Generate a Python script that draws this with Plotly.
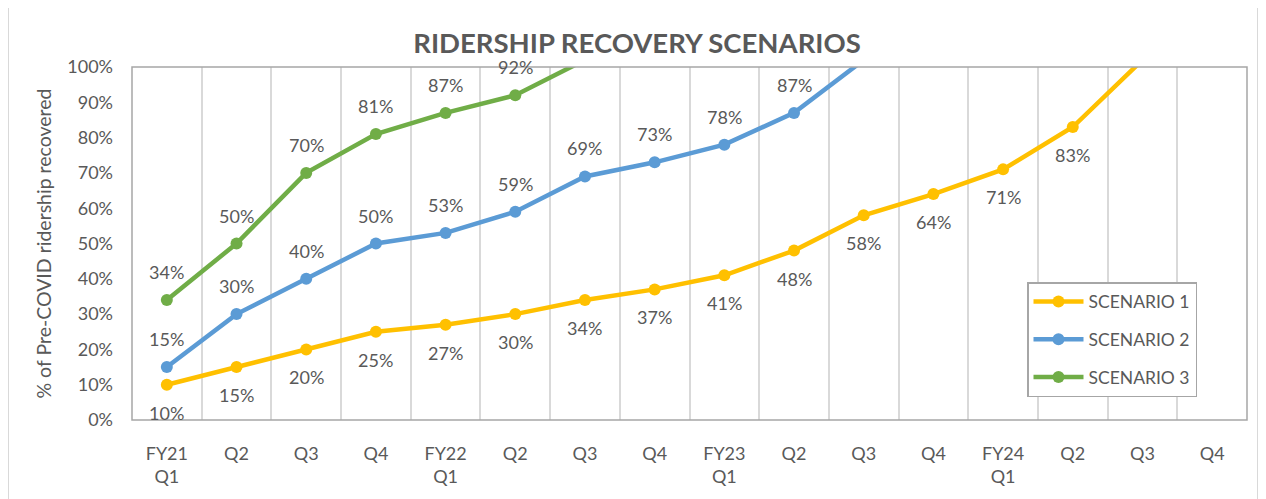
import plotly.graph_objects as go

# ---- data ----
quarters = ["FY21<br>Q1", "Q2", "Q3", "Q4",
            "FY22<br>Q1", "Q2", "Q3", "Q4",
            "FY23<br>Q1", "Q2", "Q3", "Q4",
            "FY24<br>Q1", "Q2", "Q3", "Q4"]
scenario_1 = [10, 15, 20, 25, 27, 30, 34, 37, 41, 48, 58, 64, 71, 83, 102, None]
scenario_2 = [15, 30, 40, 50, 53, 59, 69, 73, 78, 87, 102, None, None, None, None, None]
scenario_3 = [34, 50, 70, 81, 87, 92, 102, None, None, None, None, None, None, None, None, None]
series_names = ["SCENARIO 1", "SCENARIO 2", "SCENARIO 3"]
series_colors = ["#FFC000", "#5B9BD5", "#70AD47"]
label_side = [-1, 1, 1]  # -1 below, +1 above

FONT = "Lato, Open Sans, sans-serif"
TXT = "#595959"

# page offset of the plotly div (browser default body margin)
OFF = 8
FIG_W, FIG_H = 1266 - OFF, 499 - OFF
# plot area in page pixels
L, R, T, B = 132, 1247, 67, 423
W, H = R - L, B - T
def px(xp):
    return (xp - L) / W
def py(yp):
    return (B - yp) / H

x = list(range(len(quarters)))
fig = go.Figure()
annotations = []
for name, vals, col, side in zip(series_names, [scenario_1, scenario_2, scenario_3], series_colors, label_side):
    fig.add_trace(go.Scatter(
        x=x, y=vals, name=name, mode="lines+markers",
        line=dict(color=col, width=4.5),
        marker=dict(color=col, size=12),
        legendgroup=name, cliponaxis=True,
    ))
    for xi, v in zip(x, vals):
        if v is not None and v <= 100:
            annotations.append(dict(
                x=xi, y=v, xref="x", yref="y", text=f"{v:.0f}%", showarrow=False,
                yshift=28 * side, font=dict(family=FONT, size=18, color=TXT),
            ))

# outer chart border
fig.add_shape(type="rect", xref="paper", yref="paper",
              x0=px(8), x1=px(1258), y0=py(505), y1=py(5),
              line=dict(color="#D9D9D9", width=2), fillcolor="rgba(0,0,0,0)", layer="below")
# plot-area border
fig.add_shape(type="rect", xref="paper", yref="paper", x0=0, x1=1, y0=0, y1=1,
              line=dict(color="#A6A6A6", width=1.5), fillcolor="rgba(0,0,0,0)", layer="above")

fig.update_layout(
    width=FIG_W, height=FIG_H,
    margin=dict(l=L - OFF, r=1266 - R, t=T - OFF, b=499 - B),
    paper_bgcolor="white", plot_bgcolor="white",
    title=dict(text="<b>RIDERSHIP RECOVERY SCENARIOS</b>", x=(637 - OFF) / FIG_W, xanchor="center",
               y=1 - (43 - OFF) / FIG_H, yanchor="middle",
               font=dict(family=FONT, size=27.5, color=TXT)),
    font=dict(family=FONT, size=18, color=TXT),
    showlegend=True,
    legend=dict(x=px(1027), y=py(284), xanchor="left", yanchor="top",
                bordercolor="#A6A6A6", borderwidth=1.5, bgcolor="white",
                traceorder="grouped", tracegroupgap=12, itemwidth=50,
                font=dict(family=FONT, size=17.5, color=TXT)),
    annotations=annotations,
    xaxis=dict(
        range=[-0.5, len(quarters) - 0.5], tickmode="array", tickvals=x, ticktext=quarters,
        showgrid=False, zeroline=False, showline=False, ticks="",
        ticklabelstandoff=21,
        tickfont=dict(family=FONT, size=18, color=TXT),
        minor=dict(tick0=-0.5, dtick=1, showgrid=True, gridcolor="#D9D9D9", gridwidth=1.5, ticks=""),
    ),
    yaxis=dict(
        range=[0, 100], tickmode="linear", tick0=0, dtick=10, ticksuffix="%",
        showgrid=False, zeroline=False, showline=False, ticks="",
        ticklabelstandoff=18,
        tickfont=dict(family=FONT, size=18, color=TXT),
        title=dict(text="% of Pre-COVID ridership recovered", standoff=10,
                   font=dict(family=FONT, size=19.5, color=TXT)),
    ),
)

fig.write_html("out.html")
